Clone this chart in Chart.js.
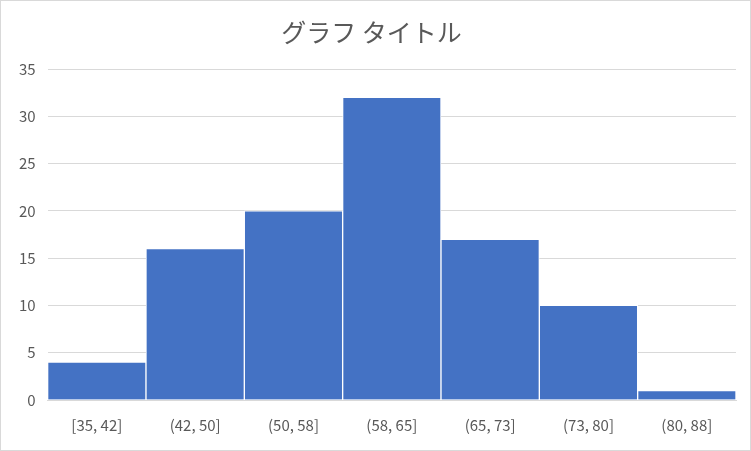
<!DOCTYPE html>
<html>
<head>
<meta charset="utf-8">
<script src="https://cdn.jsdelivr.net/npm/chart.js@4"></script>
<style>
  html, body { margin: 0; padding: 0; background: #fff; }
  #wrap { width: 749px; height: 449px; border: 1px solid #d9d9d9; position: relative; }
</style>
</head>
<body>
<div id="wrap"><canvas id="histChart"></canvas></div>
<script>
// Histogram bins and counts
const binLabels = ['[35, 42]', '(42, 50]', '(50, 58]', '(58, 65]', '(65, 73]', '(73, 80]', '(80, 88]'];
const binCounts = [4, 16, 20, 32, 17, 10, 1];
const yTicks = [0, 5, 10, 15, 20, 25, 30, 35];

const font = "'Noto Sans CJK JP', 'Noto Sans', sans-serif";
Chart.defaults.font.family = font;
Chart.defaults.color = '#595959';

new Chart(document.getElementById('histChart'), {
    type: 'bar',
    data: {
        labels: binLabels,
        datasets: [{
            data: binCounts,
            backgroundColor: '#4472C4',
            borderColor: '#ffffff',
            borderWidth: 1,
            categoryPercentage: 1.0,
            barPercentage: 1.0
        }]
    },
    options: {
        responsive: true,
        maintainAspectRatio: false,
        animation: false,
        layout: { padding: { left: 6, right: 14, top: 6, bottom: 8 } },
        scales: {
            x: {
                grid: { display: false },
                border: { color: '#d9d9d9' },
                ticks: { color: '#595959', font: { size: 15 }, padding: 8 }
            },
            y: {
                min: 0,
                max: yTicks[yTicks.length - 1],
                afterBuildTicks: axis => { axis.ticks = yTicks.map(v => ({ value: v })); },
                grid: { color: '#d9d9d9', drawTicks: false },
                border: { display: false },
                ticks: { color: '#595959', font: { size: 15 }, padding: 12 }
            }
        },
        plugins: {
            legend: { display: false },
            tooltip: { enabled: false },
            title: {
                display: true,
                text: 'グラフ タイトル',
                color: '#595959',
                font: { size: 25, weight: 'normal', family: font },
                padding: { top: 10, bottom: 22 }
            }
        }
    }
});
</script>
</body>
</html>
